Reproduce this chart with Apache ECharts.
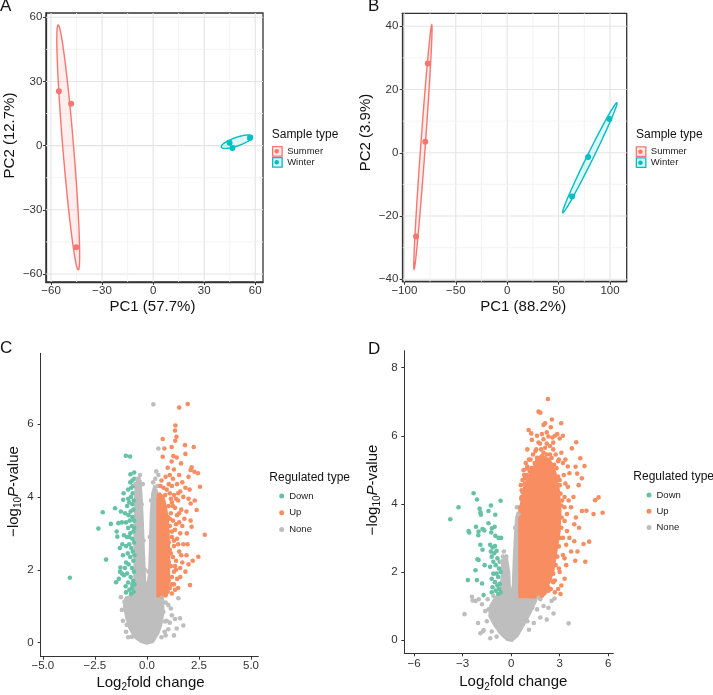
<!DOCTYPE html>
<html><head><meta charset="utf-8">
<script src="https://cdn.jsdelivr.net/npm/echarts@6/dist/echarts.min.js"></script>
<style>html,body{margin:0;padding:0;background:#fff}#c{width:713px;height:695px}</style>
</head><body><div id="c"></div>
<script>
// ---------- PCA data (panels A, B) ----------
const A_SUMMER = [[-55.4,25.4],[-48.2,19.6],[-45.2,-47.5]];
const A_WINTER = [[44.9,1.4],[56.9,3.6],[46.6,-1.1]];
const B_SUMMER = [[-77.2,28.2],[-79.6,3.5],[-88.6,-26.5]];
const B_WINTER = [[63.1,-13.8],[78.7,-1.3],[99.4,10.7]];
// ellipses: centre x, centre y, conjugate half-axis u (x,y), conjugate half-axis v (x,y)
const A_ELL_SUMMER = [-49.9,-0.84,-5.9,57.24,3.2,0];
const A_ELL_WINTER = [49.2,1.85,9.2,2.35,0,2.1];
const B_ELL_SUMMER = [-81.95,1.78,8.6,38.62,2.2,0];
const B_ELL_WINTER = [80.35,-1.55,26.25,17.39,3.4,0];

// ---------- tick labels ----------
const A_TICKS = [-60,-30,0,30,60];
const A_MINOR = [-45,-15,15,45];
const B_X_TICKS = [-100,-50,0,50,100];
const B_X_MINOR = [-75,-25,25,75];
const B_Y_TICKS = [-40,-20,0,20,40];
const B_Y_MINOR = [-30,-10,10,30];
const C_X_TICKS = [-5,-2.5,0,2.5,5];
const C_Y_TICKS = [0,2,4,6];
const D_X_TICKS = [-6,-3,0,3,6];
const D_Y_TICKS = [0,2,4,6,8];

// ---------- volcano C ----------
const C_DOWN = [[-3.7,1.78],[-2.33,3.13],[-2.12,3.58],[-1.96,2.28],[-1.73,3.26],[-1.53,3.69],[-1.48,1.66],[-1.45,3.05],[-1.42,2.91],[-1.37,3.28],[-1.29,1.95],[-1.27,2.06],[-1.14,3.92],[-1.01,5.13],[-0.81,5.11],[-0.79,4.62],[-0.61,4.67],[-0.76,4.0],
[-0.7,4.45],[-0.8,4.4],[-0.66,4.3],[-0.75,4.25],[-0.9,4.2],[-0.68,4.1],[-0.85,3.85],[-0.7,3.8],[-0.95,3.75],[-0.65,3.65],[-0.78,3.6],[-1.05,3.55],[-0.88,3.5],[-0.7,3.45],[-0.62,3.35],[-0.82,3.35],[-1.0,3.3],[-0.72,3.2],[-0.9,3.15],[-0.65,3.05],[-0.8,3.0],[-1.1,2.95],[-0.95,2.9],[-0.7,2.85],[-0.62,2.75],[-0.85,2.7],[-1.0,2.65],[-0.75,2.6],[-0.68,2.5],[-0.92,2.45],[-1.15,2.4],[-0.8,2.35],[-0.65,2.25],[-1.0,2.2],[-0.88,2.15],[-0.72,2.05],[-0.62,1.95],[-0.95,1.9],[-1.1,1.85],[-0.78,1.8],[-0.66,1.7],[-0.9,1.65],[-1.02,1.55],[-0.72,1.5],[-0.84,1.45],[-0.64,1.4],[-1.0,1.38],[-0.76,1.34],[-1.2,1.9],[-1.18,2.7],[-1.25,3.6],[-1.12,4.1],[-0.6,4.5],[-0.63,3.9],[-0.61,3.15],[-0.6,2.4],[-0.6,1.6],[-0.7,1.6],[-0.85,2.9],[-0.9,3.95],[-1.05,2.05],[-1.3,2.6],[-1.35,1.75],[-1.2,3.3]];
const C_UP = [[1.96,6.55],[1.55,6.45],[1.37,5.96],[1.35,5.82],[1.42,5.65],[1.36,5.54],[0.76,5.59],[1.83,5.42],[2.25,5.37],[0.84,5.33],[1.19,5.37],[0.76,5.1],[1.27,5.12],[1.19,4.97],[1.43,5.08],[1.64,4.92],[1.85,5.18],[2.1,4.74],[2.15,4.81],[2.28,4.69],[2.0,4.55],[2.55,4.28],[2.39,3.64],[2.1,3.82],[2.78,2.96],[1.92,3.0],[2.15,3.18],[2.47,2.36],[2.07,1.58],
[1.0,4.8],[1.1,4.6],[0.9,4.55],[0.7,4.45],[1.3,4.75],[1.55,4.6],[1.7,4.4],[1.45,4.35],[1.2,4.3],[1.85,4.25],[2.05,4.2],[1.6,4.15],[1.3,4.05],[1.1,4.1],[0.95,4.2],[1.75,4.0],[2.0,3.95],[1.5,3.9],[1.2,3.85],[1.05,3.75],[1.35,3.7],[1.65,3.65],[1.9,3.6],[1.15,3.55],[1.45,3.5],[1.0,3.45],[1.25,3.35],[1.55,3.3],[1.8,3.4],[1.1,3.2],[1.35,3.1],[1.0,3.05],[1.6,3.0],[1.2,2.9],[1.45,2.85],[1.05,2.75],[1.75,2.7],[1.3,2.65],[1.1,2.55],[1.55,2.5],[1.0,2.45],[1.9,2.4],[1.25,2.35],[1.4,2.25],[1.05,2.2],[1.7,2.2],[1.15,2.1],[1.6,2.05],[1.3,1.95],[1.0,1.9],[1.85,1.95],[1.2,1.8],[1.45,1.75],[1.05,1.7],[1.3,1.6],[1.1,1.5],[1.5,1.5],[1.0,1.4],[1.2,1.35],[0.9,1.33],[0.6,1.33],[0.75,1.35],[2.0,2.15],[2.2,2.25],[1.95,2.7],[2.1,3.35],[2.3,3.9],[2.45,4.65],[0.65,4.3],[0.8,4.25],[0.58,4.05],
[1.15,3.95],[1.25,3.75],[1.1,3.4],[1.2,3.05],[1.3,2.8],[1.15,2.45],[1.35,2.1],[1.2,1.6],[1.35,1.45],[1.4,3.25],[1.5,2.7],[1.4,2.0],[1.6,1.8],[1.65,2.4],[1.7,3.2],[1.55,3.55],[1.4,3.95],[0.88,4.05],[1.05,4.35],[1.25,4.5],[1.5,4.1]];
const C_NONE = [[0.31,6.54],[0.55,5.33],[0.45,4.7],[0.55,4.6],[0.4,4.5],[-0.33,4.6],[-0.4,4.5],[-0.2,4.35],[0.3,4.4],[-0.5,4.1],
[-1.08,1.12],[-0.97,0.49],[-1.2,0.9],[-1.25,1.25],[-1.0,0.3],[-0.9,0.15],[-1.15,0.6],[-0.9,0.71],[-0.73,0.16],[-0.97,1.22],[0.71,1.31],[0.79,0.85],[0.9,1.1],[1.03,1.03],[1.15,0.94],[0.95,0.6],[1.1,0.55],[1.2,0.75],[0.85,0.3],[0.7,0.15],[1.35,0.65],[1.43,0.39],[1.51,1.22],[1.59,0.67],[1.75,0.47],[1.3,0.2],[1.03,0.37],[0.87,0.58],[0.9,0.2],
[-0.55,4.35],[-0.45,4.5],[0.5,4.3],[0.42,4.15],[0.2,3.9],[-0.25,3.8],[0.14,2.9],[-0.16,2.8],[0.08,1.95],[-0.1,2.0]];
const C_NONE_CORE = [[-0.45,4.5],[-0.55,4.3],[-0.58,3.8],[-0.6,3.0],[-0.6,2.0],[-0.62,1.4],[-0.8,1.3],[-1.05,1.2],[-1.1,1.0],[-1.0,0.7],[-0.85,0.4],[-0.6,0.15],[-0.3,0.02],[0,-0.03],[0.3,0.02],[0.55,0.25],[0.7,0.5],[0.8,0.85],[0.78,1.2],[0.62,1.3],[0.57,2.0],[0.57,3.0],[0.57,3.7],[0.5,4.15],[0.35,4.3],[0.25,4.1],[0.18,3.5],[0.14,2.6],[0.1,1.9],[0.02,1.55],[-0.08,1.7],[-0.14,2.5],[-0.19,3.3],[-0.25,4.0],[-0.3,4.45]];
const C_UP_CORE = [[0.5,1.27],[0.95,1.27],[1.05,1.6],[1.08,2.2],[1.06,2.8],[1.02,3.3],[0.93,3.7],[0.8,4.0],[0.62,4.1],[0.5,3.95]];

// ---------- volcano D ----------
const D_DOWN = [[-2.32,4.31],[-2.11,4.13],[-0.65,4.09],[-3.25,3.9],[-3.76,3.55],[-1.95,3.86],[-1.87,3.68],[-1.9,3.75],[-1.4,3.79],[-1.25,3.95],[-0.98,3.68],[-1.4,3.43],[-2.17,3.33],[-2.59,3.16],[-2.01,3.19],[-1.77,3.26],[-1.66,3.22],[-2.03,3.08],[-1.19,3.28],[-1.02,3.33],[-1.23,3.16],[-0.98,3.06],[-0.78,3.0],[-0.62,3.0],[-1.3,2.8],[-1.15,2.72],[-1.0,2.76],[-0.9,2.62],[-1.25,2.6],[-1.05,2.55],[-1.77,2.65],[-2.08,2.37],[-1.64,2.2],[-2.63,3.2],[-2.01,2.35],[-1.2,2.45],[-0.85,2.4],[-0.7,2.3],[-1.1,2.3],[-0.95,2.2],[-0.75,2.1],[-1.3,2.15],[-0.65,2.0],[-0.9,1.95],[-1.1,1.95],[-0.8,1.85],[-2.11,1.76],[-1.8,1.66],[-1.7,1.32],[-2.67,1.76],[-1.2,1.8],[-1.0,1.7],[-0.7,1.65],[-0.85,1.6],[-1.15,1.55],[-0.75,1.5],[-0.95,1.45],[-0.65,1.4],[-1.2,1.4],[-0.8,1.35],[-2.2,2.05],[-1.9,2.8]];
const D_UP = [[2.27,7.08],[1.69,6.71],[1.8,6.68],[2.52,6.48],[2.1,6.37],[2.0,6.32],[3.09,6.37],[1.08,6.17],[1.24,6.07],[2.85,6.05],[3.0,5.92],[3.2,6.0],[2.2,6.1],[2.3,5.98],[1.28,5.88],[1.78,5.77],[1.69,5.8],[2.2,5.77],[4.02,5.81],[3.75,5.63],[4.27,5.34],[4.53,5.11],[3.98,5.09],[4.08,4.89],[4.37,4.75],[4.17,4.55],[0.77,4.99],[0.98,5.04],[0.7,4.7],[0.85,4.75],[5.19,4.11],[5.4,4.19],[5.65,3.74],[5.09,3.7],[4.65,3.8],[4.37,3.79],[4.0,3.6],[3.9,3.4],[4.82,2.89],[4.47,2.82],[4.58,2.3],[3.96,2.33],[3.9,2.9],[3.6,3.0],[3.7,2.6],[3.4,2.2],[3.3,1.8],[3.1,1.6],[2.9,1.5],[3.05,1.35],[2.7,1.4],[3.5,4.5],[3.6,4.9],[3.35,5.3],[3.1,5.5],[2.6,5.6],[1.5,5.55],[1.1,5.3],[0.9,5.2],[0.65,4.4],[0.6,4.55],[1.0,5.6],[2.6,5.8],[3.3,4.2],[3.45,3.7],[3.4,2.8],[3.2,2.5],[2.95,2.1],[2.6,1.7],[2.3,1.45],[3.7,3.9],[3.85,4.2],[2.45,6.25],[1.6,6.0],[3.5,5.1],[4.2,3.3],[4.1,2.6],
[3.2,3.0],[3.3,3.5],[3.15,4.1],[3.0,4.7],[2.9,5.25],[2.4,5.45],[2.0,5.5],[1.6,5.35],[1.25,5.05],[0.95,4.85],[0.65,4.2],[0.58,3.8],[3.3,2.4],[3.0,2.0],[2.7,1.75],[2.45,1.5],[2.0,1.35],[3.45,3.2],[3.55,4.1],[3.35,4.6],[3.2,5.2],
[0.55,3.9],[0.62,4.15],[0.7,4.35],[0.85,4.6],[1.0,4.75],[1.15,4.95],[1.3,5.05],[1.45,5.2],[1.6,5.25],[1.75,5.35],[1.9,5.4],[2.05,5.35],[2.2,5.45],[2.35,5.3],[2.5,5.35],[2.65,5.15],[2.8,5.05],[2.9,4.8],[3.0,4.55],[3.05,4.3],[3.1,3.95],[3.12,3.6],[3.1,3.3],[3.0,3.0],[2.95,2.75],[2.85,2.45],[2.75,2.2],[2.6,1.95],[2.45,1.75],[2.3,1.55],[2.1,1.4],[1.9,1.3],[1.4,1.28],[1.2,1.29],
[1.35,5.45],[1.55,5.6],[1.85,5.6],[2.1,5.65],[2.4,5.7],[2.75,5.45],[2.95,5.3],[3.25,4.85],[3.3,3.9],[1.0,5.1],[1.2,5.3],[0.8,4.85],[2.0,5.9],[2.7,6.0],[1.9,6.05],[2.55,5.95]];
const D_NONE = [[0.52,3.87],[0.35,3.9],[-2.0,1.2],[-2.2,1.15],[-2.88,0.76],[-2.42,1.27],[-2.38,1.16],[-1.74,0.26],[-1.7,0.29],[-1.29,0.05],[-1.5,0.55],[-1.6,0.85],[-1.8,1.05],[-1.45,1.2],[-1.2,0.25],[-0.9,0.1],[-2.05,0.5],[-1.9,0.2],[1.8,1.2],[2.68,1.22],[2.62,0.78],[3.55,0.49],[1.8,0.66],[2.0,1.0],[1.6,0.9],[2.3,0.95],[1.4,0.5],[1.1,0.3],[2.2,0.6],[1.7,1.25],[2.5,1.15],[-0.45,2.6],[-0.5,2.45],
[-0.6,2.3],[-0.3,2.45],[-1.1,1.3],[-1.4,0.9],[-0.7,0.25],[1.3,0.95],[1.0,0.55],[0.45,3.7],[0.25,3.3]];
const D_NONE_CORE = [[-0.55,2.35],[-0.6,1.8],[-0.68,1.35],[-1.0,1.25],[-1.3,1.0],[-1.35,0.7],[-1.0,0.4],[-0.6,0.15],[-0.25,0.0],[0.05,-0.03],[0.4,0.12],[0.8,0.45],[1.2,0.8],[1.55,1.15],[1.5,1.3],[0.5,1.3],[0.5,3.5],[0.42,3.75],[0.3,3.6],[0.22,3.0],[0.15,2.3],[0.1,1.6],[0.0,1.35],[-0.08,1.6],[-0.12,2.0],[-0.25,2.4]];
const D_UP_CORE = [[0.5,1.26],[1.7,1.26],[2.2,1.5],[2.6,2.0],[2.8,2.6],[3.0,3.2],[3.05,3.8],[2.95,4.4],[2.75,4.9],[2.5,5.2],[2.2,5.35],[1.8,5.3],[1.4,5.1],[1.1,4.85],[0.8,4.5],[0.6,4.0],[0.5,3.6]];

// ---------- layout / style ----------
const FONT = "'Liberation Sans', Arial, Helvetica, sans-serif";
const RED = '#F8766D', TEAL = '#00BFC4';
const GREEN = '#66C2A5', ORANGE = '#F88D62', GRAY = '#BEBEBE';
const GRIDS = [
  {left:39, top:13, width:224, height:269},
  {left:402.7, top:13.3, width:224, height:268.4},
  {left:40.7, top:353.3, width:217.6, height:303.4},
  {left:404.3, top:350.7, width:209, height:302.6}
];
const XR = [[-63.02,64.56],[-101.6,116.2],[-5.1,5.35],[-6.6,6.31]];
const YR = [[-63.74,62.0],[-40.76,44.1],[-0.384,7.94],[-0.39,8.5]];

function fmtInt(v){ return (v<0?'\u2212':'') + Math.abs(v); }
function fmt1(v){ return (v<0?'\u2212':'') + Math.abs(v).toFixed(1); }

const richName = {
  a:{fontSize:15, lineHeight:20, fontFamily:FONT, color:'#111'},
  s:{fontSize:10, lineHeight:10, verticalAlign:'bottom', fontFamily:FONT, color:'#111'},
  i:{fontSize:15, lineHeight:20, fontStyle:'italic', fontFamily:FONT, color:'#111'}
};

function axis(i, dim, ticks, fmt, name, nameGap, pad, margin, boxed){
  const r = dim==='x' ? XR[i] : YR[i];
  return {
    gridIndex:i, type:'value', min:r[0], max:r[1],
    axisLine:{show:true, onZero:false, lineStyle:{color:'#333', width: boxed?1.3:1}},
    axisTick:{show:true, customValues:ticks, length:3, lineStyle:{color:'#333', width:1}},
    axisLabel:{customValues:ticks, formatter:fmt, fontSize:11.5, color:'#333', fontFamily:FONT, margin:margin},
    splitLine:{show:false},
    name:name, nameLocation:'middle', nameGap:nameGap,
    nameTextStyle:{fontSize:15, lineHeight:18, color:'#111', fontFamily:FONT, padding:pad, rich:richName}
  };
}

function gridLines(i, xs, ys, major){
  const data = [];
  xs.forEach(v=>data.push([v,0,1]));
  ys.forEach(v=>data.push([0,v,0]));
  return {
    type:'custom', xAxisIndex:i, yAxisIndex:i, silent:true, z:1,
    encode:{x:0,y:1}, data:data,
    renderItem:(p, api)=>{
      const v0 = api.value(0), v1 = api.value(1), vert = api.value(2)===1;
      const a = vert ? api.coord([v0, YR[i][0]]) : api.coord([XR[i][0], v1]);
      const b = vert ? api.coord([v0, YR[i][1]]) : api.coord([XR[i][1], v1]);
      return {type:'line', shape:{x1:a[0],y1:a[1],x2:b[0],y2:b[1]},
        style:{stroke: major ? '#E4E4E4' : '#F0F0F0', lineWidth: major ? 1.1 : 0.8}};
    }
  };
}

function ellipse(i, e, color, fill){
  return {
    type:'custom', xAxisIndex:i, yAxisIndex:i, silent:true, z:2,
    encode:{x:0,y:1}, data:[e],
    renderItem:(p, api)=>{
      const cx=api.value(0), cy=api.value(1), ux=api.value(2), uy=api.value(3), vx=api.value(4), vy=api.value(5);
      const pts=[];
      for(let k=0;k<96;k++){
        const t = 2*Math.PI*k/96;
        pts.push(api.coord([cx+ux*Math.cos(t)+vx*Math.sin(t), cy+uy*Math.cos(t)+vy*Math.sin(t)]));
      }
      return {type:'polygon', shape:{points:pts}, style:{fill:fill, stroke:color, lineWidth:1.4}};
    }
  };
}

function region(i, verts, color){
  return {
    type:'custom', xAxisIndex:i, yAxisIndex:i, silent:true,
    encode:{x:0,y:1}, data:verts,
    renderItem:(p, api)=>{
      if(p.dataIndex!==0) return null;
      return {type:'polygon', shape:{points: verts.map(v=>api.coord(v))},
        style:{fill:color, stroke:color, lineWidth:2, lineJoin:'round'}};
    }
  };
}

function pts(i, name, data, color, size){
  return {type:'scatter', name:name, xAxisIndex:i, yAxisIndex:i, data:data, symbolSize:size,
    itemStyle:{color:color, opacity:1}, silent:true, z:3};
}

const titleStyle = {fontSize:17, fontWeight:'normal', color:'#111', fontFamily:FONT, lineHeight:17};
const legTitle = {fontSize:12, fontWeight:'normal', color:'#111', fontFamily:FONT, lineHeight:14};

const option = {
  animation:false,
  backgroundColor:'#fff',
  title:[
    {text:'A', left:0, top:-1.7, padding:0, textStyle:titleStyle},
    {text:'B', left:368, top:-1.7, padding:0, textStyle:titleStyle},
    {text:'C', left:0, top:339.6, padding:0, textStyle:titleStyle},
    {text:'D', left:368, top:340.6, padding:0, textStyle:titleStyle},
    {text:'Sample type', left:271.7, top:128, padding:0, textStyle:legTitle},
    {text:'Sample type', left:636, top:128, padding:0, textStyle:legTitle},
    {text:'Regulated type', left:269.3, top:471, padding:0, textStyle:legTitle},
    {text:'Regulated type', left:633.3, top:469.7, padding:0, textStyle:legTitle}
  ],
  legend:[
    {left:272, top:145.8, orient:'vertical', icon:'rect', itemWidth:9.5, itemHeight:9.5, itemGap:0, padding:0, selectedMode:false,
     textStyle:{fontSize:9.5, lineHeight:11, color:'#222', fontFamily:FONT},
     data:[{name:'Summer', itemStyle:{color:'rgba(248,118,109,0.15)', borderColor:RED, borderWidth:1.3}},
           {name:'Winter', itemStyle:{color:'rgba(0,191,196,0.15)', borderColor:TEAL, borderWidth:1.3}}]},
    {left:274.5, top:149.05, orient:'vertical', icon:'circle', itemWidth:4.5, itemHeight:4.5, itemGap:6.5, padding:0, selectedMode:false,
     formatter:()=>'', textStyle:{fontSize:3, lineHeight:3},
     data:[{name:'Summer', itemStyle:{color:RED}},{name:'Winter', itemStyle:{color:TEAL}}]},
    {left:635.7, top:146.2, orient:'vertical', icon:'rect', itemWidth:9.5, itemHeight:9.5, itemGap:0, padding:0, selectedMode:false,
     textStyle:{fontSize:9.5, lineHeight:11, color:'#222', fontFamily:FONT},
     data:[{name:'Summer', itemStyle:{color:'rgba(248,118,109,0.15)', borderColor:RED, borderWidth:1.3}},
           {name:'Winter', itemStyle:{color:'rgba(0,191,196,0.15)', borderColor:TEAL, borderWidth:1.3}}]},
    {left:638.2, top:149.45, orient:'vertical', icon:'circle', itemWidth:4.5, itemHeight:4.5, itemGap:6.5, padding:0, selectedMode:false,
     formatter:()=>'', textStyle:{fontSize:3, lineHeight:3},
     data:[{name:'Summer', itemStyle:{color:RED}},{name:'Winter', itemStyle:{color:TEAL}}]},
    {left:279.2, top:490, orient:'vertical', icon:'circle', itemWidth:5, itemHeight:5, itemGap:4.7, padding:0, selectedMode:false,
     textStyle:{fontSize:9.5, lineHeight:12, color:'#222', fontFamily:FONT},
     data:[{name:'Down', itemStyle:{color:GREEN}},{name:'Up', itemStyle:{color:ORANGE}},{name:'None', itemStyle:{color:GRAY}}]},
    {left:646.5, top:489, orient:'vertical', icon:'circle', itemWidth:5, itemHeight:5, itemGap:4.3, padding:0, selectedMode:false,
     textStyle:{fontSize:9.5, lineHeight:12, color:'#222', fontFamily:FONT},
     data:[{name:'Down', itemStyle:{color:GREEN}},{name:'Up', itemStyle:{color:ORANGE}},{name:'None', itemStyle:{color:GRAY}}]}
  ],
  grid: GRIDS.map((g,i)=>Object.assign({}, g, i<2 ? {show:true, borderColor:'#333', borderWidth:1.3, backgroundColor:'#fff'} : {show:false})),
  xAxis:[
    axis(0,'x',A_TICKS,fmtInt,'PC1 (57.7%)',14.6,[0,4,0,0],3,true),
    axis(1,'x',B_X_TICKS,fmtInt,'PC1 (88.2%)',14.9,[0,0,0,17],3.5,true),
    axis(2,'x',C_X_TICKS,fmt1,'{a|Log}{s|2}{a|fold change}',16,[0,0,0,2],3,false),
    axis(3,'x',D_X_TICKS,fmtInt,'{a|Log}{s|2}{a|fold change}',19,[0,0,0,9],4.5,false)
  ],
  yAxis:[
    axis(0,'y',A_TICKS,fmtInt,'PC2 (12.7%)',19.5,[0,0,0,24],3.5,true),
    axis(1,'y',B_Y_TICKS,fmtInt,'PC2 (3.9%)',18.2,[0,0,0,30],4.4,true),
    axis(2,'y',C_Y_TICKS,fmtInt,'{a|\u2212log}{s|10}{i|P}{a|-value}',15,[0,0,0,27],7,false),
    axis(3,'y',D_Y_TICKS,fmtInt,'{a|\u2212log}{s|10}{i|P}{a|-value}',21.8,[0,0,0,24],6.6,false)
  ],
  series:[
    gridLines(0, A_TICKS, A_TICKS, true),
    gridLines(0, A_MINOR, A_MINOR, false),
    gridLines(1, B_X_TICKS, B_Y_TICKS, true),
    gridLines(1, B_X_MINOR, B_Y_MINOR, false),
    ellipse(0, A_ELL_SUMMER, RED, 'rgba(248,118,109,0.12)'),
    ellipse(0, A_ELL_WINTER, TEAL, 'rgba(0,191,196,0.12)'),
    ellipse(1, B_ELL_SUMMER, RED, 'rgba(248,118,109,0.12)'),
    ellipse(1, B_ELL_WINTER, TEAL, 'rgba(0,191,196,0.12)'),
    pts(0,'Summer',A_SUMMER,RED,6),
    pts(0,'Winter',A_WINTER,TEAL,6),
    pts(1,'Summer',B_SUMMER,RED,6),
    pts(1,'Winter',B_WINTER,TEAL,6),
    pts(2,'Down',C_DOWN,GREEN,4.6),
    region(2, C_NONE_CORE, GRAY),
    pts(2,'None',C_NONE,GRAY,4.6),
    region(2, C_UP_CORE, ORANGE),
    pts(2,'Up',C_UP,ORANGE,4.6),
    pts(3,'Down',D_DOWN,GREEN,4.6),
    region(3, D_NONE_CORE, GRAY),
    pts(3,'None',D_NONE,GRAY,4.6),
    region(3, D_UP_CORE, ORANGE),
    pts(3,'Up',D_UP,ORANGE,4.6)
  ]
};
const chart = echarts.init(document.getElementById('c'), null, {renderer:'canvas'});
chart.setOption(option);
</script></body></html>
